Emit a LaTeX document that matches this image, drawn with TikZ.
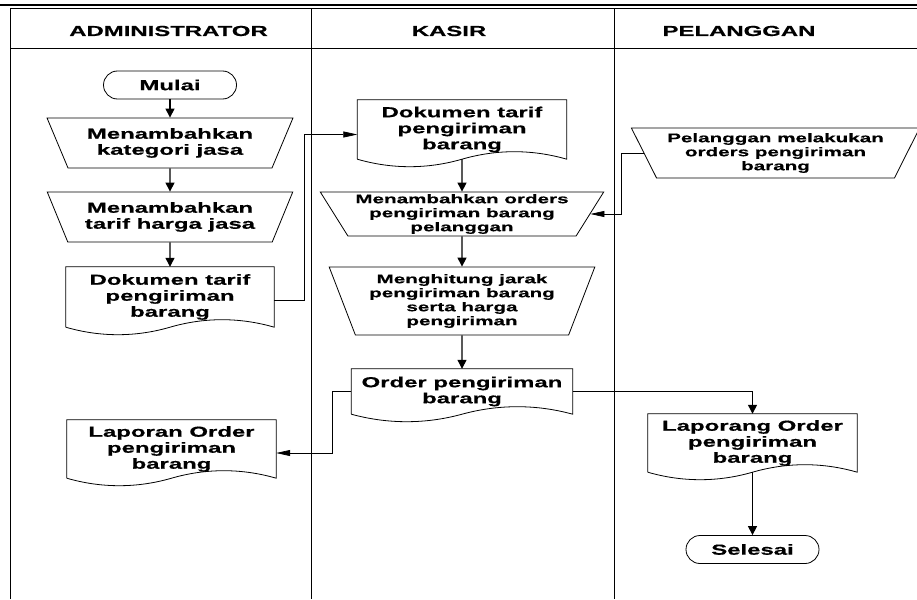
\documentclass[tikz,border=0pt]{standalone}
\usepackage{fontspec}
\setmainfont{Liberation Sans}[FakeStretch=1.65, BoldFeatures={FakeBold=0.5}]
\usetikzlibrary{shapes.geometric,calc,arrows.meta}

\newcommand{\bigtxt}{\fontsize{14.5pt}{16pt}\selectfont\bfseries}
\newcommand{\smalltxt}{\fontsize{12.5pt}{14pt}\selectfont\bfseries}

% document outline with wavy bottom
\newcommand{\drawdoc}[1]{%
  \draw[line width=0.8pt] (#1.south west) -- (#1.north west) -- (#1.north east) -- (#1.south east)
    .. controls ($(#1.south)!0.67!(#1.south east)+(0,-10)$) and ($(#1.south)!0.33!(#1.south east)+(0,-10)$) .. (#1.south)
    .. controls ($(#1.south)!0.33!(#1.south west)+(0,10)$) and ($(#1.south)!0.67!(#1.south west)+(0,10)$) .. (#1.south west);}

\begin{document}
\begin{tikzpicture}[x=1pt, y=-1pt,
    lane/.style={line width=0.8pt},
    header/.style={font=\bigtxt},
    terminal/.style={draw, line width=0.8pt, rounded corners=14pt, minimum width=133pt, minimum height=28pt, inner sep=0pt, font=\bigtxt},
    manualop/.style={draw, line width=0.8pt, trapezium, trapezium angle=120, trapezium stretches=true, inner sep=0pt, align=center},
    docbox/.style={inner sep=0pt, align=center, font=\bigtxt},
    flow/.style={-{Triangle[length=9pt,width=9pt]}, line width=1.2pt},
    flowh/.style={-{Triangle[length=14pt,width=6pt]}, line width=0.7pt}]

  \useasboundingbox (0,0) rectangle (917,599);

  % Lanes
  \draw[line width=2.5pt] (0,5) -- (917,5);
  \draw[lane] (10,599) -- (10,8.5) -- (917,8.5);
  \draw[lane] (10,48) -- (917,48);
  \draw[lane] (311.5,8.5) -- (311.5,599);
  \draw[lane] (614,8.5) -- (614,599);

  \node[header] (hadmin) at (168.5,31) {ADMINISTRATOR};
  \node[header] (hkasir) at (449,31) {KASIR};
  \node[header] (hplg) at (739,31) {PELANGGAN};

  % Administrator
  \node[terminal] (mulai) at (170,85) {Mulai};
  \node[manualop, font=\bigtxt, minimum width=246pt, minimum height=50pt] (kategori) at (170,143) {Menambahkan\\kategori jasa};
  \node[manualop, font=\bigtxt, minimum width=246pt, minimum height=50pt] (tarif) at (170,217) {Menambahkan\\tarif harga jasa};
  \node[docbox, minimum width=208pt, minimum height=60pt] (dokadm) at (170,297) {Dokumen tarif\\pengiriman\\barang};
  \drawdoc{dokadm}
  \node[docbox, minimum width=209pt, minimum height=58pt] (lapadm) at (171.5,449) {Laporan Order\\pengiriman\\barang};
  \drawdoc{lapadm}

  % Kasir
  \node[docbox, minimum width=209pt, minimum height=59pt] (dokkasir) at (462,129.5) {Dokumen tarif\\pengiriman\\barang};
  \drawdoc{dokkasir}
  \node[manualop, font=\smalltxt, trapezium angle=123, minimum width=284pt, minimum height=44pt] (orders) at (462,214) {Menambahkan orders\\pengiriman barang\\pelanggan};
  \node[manualop, font=\smalltxt, trapezium angle=113, minimum width=266pt, minimum height=68pt] (hitung) at (462,301) {Menghitung jarak\\pengiriman barang\\serta harga\\pengiriman};
  \node[docbox, minimum width=221pt, minimum height=45pt] (orderdoc) at (462,391.5) {Order pengiriman\\barang};
  \drawdoc{orderdoc}

  % Pelanggan
  \node[manualop, font=\smalltxt, minimum width=289pt, minimum height=50pt] (plgorder) at (775.5,153) {Pelanggan melakukan\\orders pengiriman\\barang};
  \node[docbox, minimum width=209pt, minimum height=58pt] (lapplg) at (752.5,443) {Laporang Order\\pengiriman\\barang};
  \drawdoc{lapplg}
  \node[terminal] (selesai) at (752.5,549.5) {Selesai};

  % Edges
  \draw[flow] (mulai) -- (kategori);
  \draw[flow] (kategori) -- (tarif);
  \draw[flow] (tarif) -- (dokadm);
  \draw[flowh] ([yshift=-3pt]dokadm.east) -- ++(30,0) |- ([yshift=-5pt]dokkasir.west);
  \draw[flow] (dokkasir) -- (orders);
  \draw[flowh] (plgorder.west) -- ++(-22,0) |- (orders.east);
  \draw[flow] (orders) -- (hitung);
  \draw[flow] (hitung) -- (orderdoc);
  \draw[flowh] (orderdoc.west) -- ++(-19,0) |- ([yshift=-4pt]lapadm.east);
  \draw[flow] (orderdoc.east) -| (lapplg.north);
  \draw[flow] (lapplg) -- (selesai);

\end{tikzpicture}
\end{document}
